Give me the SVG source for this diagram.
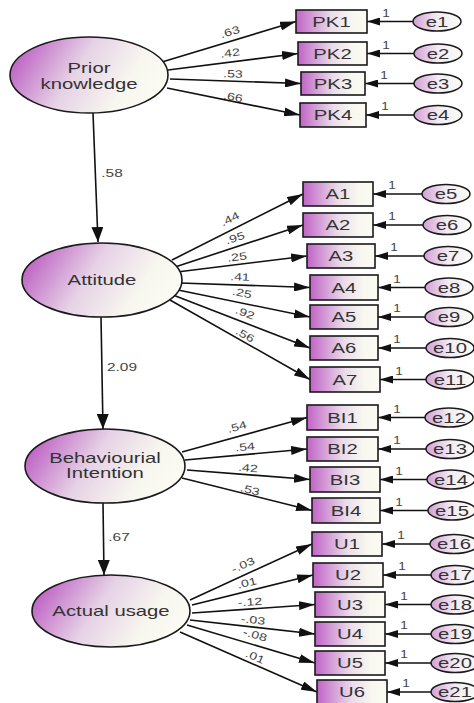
<svg xmlns="http://www.w3.org/2000/svg" width="474" height="703" viewBox="0 0 474 703">
<defs>
<linearGradient id="gL" x1="0" y1="0.2" x2="1" y2="0.5">
<stop offset="0" stop-color="#b955c0"/>
<stop offset="0.45" stop-color="#e6d2e6"/>
<stop offset="0.8" stop-color="#f8f7ef"/>
<stop offset="1" stop-color="#fbfbf3"/>
</linearGradient>
<linearGradient id="gB" x1="0" y1="0" x2="1" y2="0">
<stop offset="0" stop-color="#c064c6"/>
<stop offset="0.5" stop-color="#eadcea"/>
<stop offset="0.8" stop-color="#f9f8f0"/>
<stop offset="1" stop-color="#fbfbf3"/>
</linearGradient>
<linearGradient id="gE" x1="0" y1="0" x2="1" y2="0">
<stop offset="0" stop-color="#d39fd6"/>
<stop offset="0.5" stop-color="#f3ecf3"/>
<stop offset="1" stop-color="#fbfbf5"/>
</linearGradient>
<marker id="ah" markerWidth="16" markerHeight="9" refX="16" refY="4.5" orient="auto" markerUnits="userSpaceOnUse">
<path d="M0,0 L16,4.5 L0,9 z" fill="#111"/>
</marker>
<marker id="ae" markerWidth="13" markerHeight="8" refX="13" refY="4" orient="auto" markerUnits="userSpaceOnUse">
<path d="M0,0 L13,4 L0,8 z" fill="#111"/>
</marker>
<marker id="av" markerWidth="15" markerHeight="12" refX="15" refY="6" orient="auto" markerUnits="userSpaceOnUse">
<path d="M0,0 L15,6 L0,12 z" fill="#111"/>
</marker>
</defs>
<style>
.lat{fill:url(#gL);stroke:#1a1a1a;stroke-width:1.6}
.obs{fill:url(#gB);stroke:#1a1a1a;stroke-width:1.6}
.err{fill:url(#gE);stroke:#1a1a1a;stroke-width:1.5}
text{font-family:"Liberation Sans",Arial,sans-serif;text-anchor:middle}
.t{font-size:14px;fill:#333}
.lb{font-size:10.5px;fill:#444}
.vl{font-size:11px;fill:#444}
.c line{stroke:#111;stroke-width:1.6;fill:none}
.ld line{marker-end:url(#ah)}
.el line{marker-end:url(#ae)}
.vt line{marker-end:url(#av)}
</style>
<rect width="474" height="703" fill="#ffffff"/>

<g id="connectors" class="c">
<g class="vt">
<line x1="93" y1="113" x2="98" y2="242"/>
<line x1="101" y1="317" x2="103" y2="429"/>
<line x1="103" y1="503" x2="104" y2="575"/>
</g>
<g class="ld">
<line x1="162" y1="62" x2="296" y2="21.5"/>
<line x1="168" y1="70" x2="298" y2="53.5"/>
<line x1="170" y1="79" x2="301" y2="83.5"/>
<line x1="167" y1="88" x2="300" y2="115"/>
<line x1="172" y1="260" x2="303" y2="194"/>
<line x1="175" y1="267" x2="303" y2="225"/>
<line x1="177" y1="272" x2="307" y2="256"/>
<line x1="180" y1="283" x2="310" y2="287.5"/>
<line x1="178" y1="290" x2="310" y2="317"/>
<line x1="173" y1="295" x2="310" y2="348"/>
<line x1="170" y1="300" x2="310" y2="379.5"/>
<line x1="182" y1="452" x2="307" y2="417.5"/>
<line x1="185" y1="460" x2="307" y2="449"/>
<line x1="187" y1="470" x2="310" y2="479.5"/>
<line x1="182" y1="478" x2="312" y2="510.5"/>
<line x1="190" y1="600" x2="312" y2="544"/>
<line x1="192" y1="605" x2="313" y2="575"/>
<line x1="192" y1="613" x2="315" y2="604.5"/>
<line x1="190" y1="620" x2="315" y2="634"/>
<line x1="187" y1="625" x2="315" y2="663"/>
<line x1="180" y1="632" x2="317" y2="692"/>
</g>
<g class="el">
<line x1="413" y1="21.5" x2="367" y2="21.5"/>
<line x1="414" y1="53.5" x2="367" y2="53.5"/>
<line x1="414" y1="83.5" x2="365" y2="83.5"/>
<line x1="414" y1="115" x2="366" y2="115"/>
<line x1="422" y1="194" x2="373" y2="194"/>
<line x1="423" y1="225" x2="373" y2="225"/>
<line x1="424" y1="256" x2="375" y2="256"/>
<line x1="425" y1="287.5" x2="378" y2="287.5"/>
<line x1="425" y1="317" x2="378" y2="317"/>
<line x1="426" y1="348" x2="378" y2="348"/>
<line x1="426" y1="379.5" x2="380" y2="379.5"/>
<line x1="425" y1="417.5" x2="378" y2="417.5"/>
<line x1="426" y1="449" x2="378" y2="449"/>
<line x1="427" y1="479.5" x2="380" y2="479.5"/>
<line x1="428" y1="510.5" x2="380" y2="510.5"/>
<line x1="430" y1="544" x2="382" y2="544"/>
<line x1="431" y1="575" x2="383" y2="575"/>
<line x1="431" y1="604.5" x2="385" y2="604.5"/>
<line x1="431" y1="634" x2="385" y2="634"/>
<line x1="431" y1="663" x2="385" y2="663"/>
<line x1="431" y1="692" x2="387" y2="692"/>
</g>
<g id="path-labels">
<text class="vl" transform="translate(112,177) scale(1.4,1)">.58</text>
<text class="vl" transform="translate(122,371) scale(1.4,1)">2.09</text>
<text class="vl" transform="translate(119,541) scale(1.4,1)">.67</text>
<text class="lb" transform="translate(230,32) rotate(-16.7) scale(1.35,1)" y="3.5">.63</text>
<text class="lb" transform="translate(230,53) rotate(-7.2) scale(1.35,1)" y="3.5">.42</text>
<text class="lb" transform="translate(233,74) rotate(2) scale(1.35,1)" y="3.5">.53</text>
<text class="lb" transform="translate(233,97) rotate(11.5) scale(1.35,1)" y="3.5">.66</text>
<text class="lb" transform="translate(230,219) rotate(-27) scale(1.35,1)" y="3.5">.44</text>
<text class="lb" transform="translate(235,238) rotate(-18) scale(1.35,1)" y="3.5">.95</text>
<text class="lb" transform="translate(237,257) rotate(-7) scale(1.35,1)" y="3.5">.25</text>
<text class="lb" transform="translate(240,277) rotate(2) scale(1.35,1)" y="3.5">.41</text>
<text class="lb" transform="translate(242,293) rotate(11.6) scale(1.35,1)" y="3.5">.25</text>
<text class="lb" transform="translate(245,313) rotate(21) scale(1.35,1)" y="3.5">.92</text>
<text class="lb" transform="translate(245,335) rotate(29.6) scale(1.35,1)" y="3.5">.56</text>
<text class="lb" transform="translate(237,427) rotate(-15.4) scale(1.35,1)" y="3.5">.54</text>
<text class="lb" transform="translate(245,447) rotate(-5) scale(1.35,1)" y="3.5">.54</text>
<text class="lb" transform="translate(248,468) rotate(4.4) scale(1.35,1)" y="3.5">.42</text>
<text class="lb" transform="translate(250,490) rotate(14) scale(1.35,1)" y="3.5">.53</text>
<text class="lb" transform="translate(243,565) rotate(-24.7) scale(1.35,1)" y="3.5">-.03</text>
<text class="lb" transform="translate(247,583) rotate(-14) scale(1.35,1)" y="3.5">.01</text>
<text class="lb" transform="translate(250,602) rotate(-4) scale(1.35,1)" y="3.5">-.12</text>
<text class="lb" transform="translate(253,620) rotate(6.4) scale(1.35,1)" y="3.5">-.03</text>
<text class="lb" transform="translate(255,635) rotate(16.5) scale(1.35,1)" y="3.5">-.08</text>
<text class="lb" transform="translate(255,657) rotate(23.6) scale(1.35,1)" y="3.5">.01</text>
<text class="lb" transform="translate(386,16.5) scale(1.3,1)">1</text>
<text class="lb" transform="translate(386,48.5) scale(1.3,1)">1</text>
<text class="lb" transform="translate(384,78.5) scale(1.3,1)">1</text>
<text class="lb" transform="translate(385,110) scale(1.3,1)">1</text>
<text class="lb" transform="translate(392,189) scale(1.3,1)">1</text>
<text class="lb" transform="translate(392,220) scale(1.3,1)">1</text>
<text class="lb" transform="translate(394,251) scale(1.3,1)">1</text>
<text class="lb" transform="translate(397,282.5) scale(1.3,1)">1</text>
<text class="lb" transform="translate(397,312) scale(1.3,1)">1</text>
<text class="lb" transform="translate(397,343) scale(1.3,1)">1</text>
<text class="lb" transform="translate(399,374.5) scale(1.3,1)">1</text>
<text class="lb" transform="translate(397,412.5) scale(1.3,1)">1</text>
<text class="lb" transform="translate(397,444) scale(1.3,1)">1</text>
<text class="lb" transform="translate(399,474.5) scale(1.3,1)">1</text>
<text class="lb" transform="translate(399,505.5) scale(1.3,1)">1</text>
<text class="lb" transform="translate(401,539) scale(1.3,1)">1</text>
<text class="lb" transform="translate(402,570) scale(1.3,1)">1</text>
<text class="lb" transform="translate(404,599.5) scale(1.3,1)">1</text>
<text class="lb" transform="translate(404,629) scale(1.3,1)">1</text>
<text class="lb" transform="translate(404,658) scale(1.3,1)">1</text>
<text class="lb" transform="translate(406,687) scale(1.3,1)">1</text>
</g>
</g>

<g id="PriorKnowledge"><ellipse class="lat" cx="89" cy="75" rx="79" ry="38"/><text class="t" transform="translate(89,73) scale(1.45,1)">Prior</text><text class="t" transform="translate(89,89) scale(1.45,1)">knowledge</text></g>
<g id="Attitude"><ellipse class="lat" cx="102" cy="280" rx="80" ry="37"/><text class="t" transform="translate(102,285) scale(1.45,1)">Attitude</text></g>
<g id="BehaviouralIntention"><ellipse class="lat" cx="105" cy="466" rx="80" ry="37"/><text class="t" transform="translate(105,463) scale(1.45,1)">Behaviourial</text><text class="t" transform="translate(105,478) scale(1.45,1)">Intention</text></g>
<g id="ActualUsage"><ellipse class="lat" cx="111" cy="611" rx="79" ry="36"/><text class="t" transform="translate(111,616) scale(1.45,1)">Actual usage</text></g>

<g id="PK1"><rect class="obs" x="296" y="10" width="71" height="23"/><text class="t" transform="translate(331.5,26.5) scale(1.45,1)">PK1</text></g>
<g id="PK2"><rect class="obs" x="298" y="42" width="69" height="23"/><text class="t" transform="translate(332.5,58.5) scale(1.45,1)">PK2</text></g>
<g id="PK3"><rect class="obs" x="301" y="72" width="64" height="23"/><text class="t" transform="translate(333,88.5) scale(1.45,1)">PK3</text></g>
<g id="PK4"><rect class="obs" x="300" y="103" width="66" height="24"/><text class="t" transform="translate(333,120) scale(1.45,1)">PK4</text></g>
<g id="A1"><rect class="obs" x="303" y="182" width="70" height="24"/><text class="t" transform="translate(338,199) scale(1.45,1)">A1</text></g>
<g id="A2"><rect class="obs" x="303" y="213" width="70" height="24"/><text class="t" transform="translate(338,230) scale(1.45,1)">A2</text></g>
<g id="A3"><rect class="obs" x="307" y="244" width="68" height="24"/><text class="t" transform="translate(341,261) scale(1.45,1)">A3</text></g>
<g id="A4"><rect class="obs" x="310" y="275" width="68" height="25"/><text class="t" transform="translate(344,292.5) scale(1.45,1)">A4</text></g>
<g id="A5"><rect class="obs" x="310" y="305" width="68" height="24"/><text class="t" transform="translate(344,322) scale(1.45,1)">A5</text></g>
<g id="A6"><rect class="obs" x="310" y="336" width="68" height="24"/><text class="t" transform="translate(344,353) scale(1.45,1)">A6</text></g>
<g id="A7"><rect class="obs" x="310" y="367" width="70" height="25"/><text class="t" transform="translate(345,384.5) scale(1.45,1)">A7</text></g>
<g id="BI1"><rect class="obs" x="307" y="405" width="71" height="25"/><text class="t" transform="translate(342.5,422.5) scale(1.45,1)">BI1</text></g>
<g id="BI2"><rect class="obs" x="307" y="437" width="71" height="24"/><text class="t" transform="translate(342.5,454) scale(1.45,1)">BI2</text></g>
<g id="BI3"><rect class="obs" x="310" y="467" width="70" height="25"/><text class="t" transform="translate(345,484.5) scale(1.45,1)">BI3</text></g>
<g id="BI4"><rect class="obs" x="312" y="498" width="68" height="25"/><text class="t" transform="translate(346,515.5) scale(1.45,1)">BI4</text></g>
<g id="U1"><rect class="obs" x="312" y="532" width="70" height="24"/><text class="t" transform="translate(347,549) scale(1.45,1)">U1</text></g>
<g id="U2"><rect class="obs" x="313" y="563" width="70" height="24"/><text class="t" transform="translate(348,580) scale(1.45,1)">U2</text></g>
<g id="U3"><rect class="obs" x="315" y="592" width="70" height="25"/><text class="t" transform="translate(350,609.5) scale(1.45,1)">U3</text></g>
<g id="U4"><rect class="obs" x="315" y="622" width="70" height="24"/><text class="t" transform="translate(350,639) scale(1.45,1)">U4</text></g>
<g id="U5"><rect class="obs" x="315" y="651" width="70" height="24"/><text class="t" transform="translate(350,668) scale(1.45,1)">U5</text></g>
<g id="U6"><rect class="obs" x="317" y="680" width="70" height="24"/><text class="t" transform="translate(352,697) scale(1.45,1)">U6</text></g>

<g id="e1"><ellipse class="err" cx="437" cy="21.5" rx="24" ry="9.5"/><text class="t" transform="translate(437,26.5) scale(1.45,1)">e1</text></g>
<g id="e2"><ellipse class="err" cx="438" cy="53.5" rx="24" ry="9.5"/><text class="t" transform="translate(438,58.5) scale(1.45,1)">e2</text></g>
<g id="e3"><ellipse class="err" cx="438" cy="83.5" rx="24" ry="9.5"/><text class="t" transform="translate(438,88.5) scale(1.45,1)">e3</text></g>
<g id="e4"><ellipse class="err" cx="438" cy="115" rx="24" ry="9.5"/><text class="t" transform="translate(438,120) scale(1.45,1)">e4</text></g>
<g id="e5"><ellipse class="err" cx="446" cy="194" rx="24" ry="9.5"/><text class="t" transform="translate(446,199) scale(1.45,1)">e5</text></g>
<g id="e6"><ellipse class="err" cx="447" cy="225" rx="24" ry="9.5"/><text class="t" transform="translate(447,230) scale(1.45,1)">e6</text></g>
<g id="e7"><ellipse class="err" cx="448" cy="256" rx="24" ry="9.5"/><text class="t" transform="translate(448,261) scale(1.45,1)">e7</text></g>
<g id="e8"><ellipse class="err" cx="449" cy="287.5" rx="24" ry="9.5"/><text class="t" transform="translate(449,292.5) scale(1.45,1)">e8</text></g>
<g id="e9"><ellipse class="err" cx="449" cy="317" rx="24" ry="9.5"/><text class="t" transform="translate(449,322) scale(1.45,1)">e9</text></g>
<g id="e10"><ellipse class="err" cx="450" cy="348" rx="24" ry="9.5"/><text class="t" transform="translate(450,353) scale(1.45,1)">e10</text></g>
<g id="e11"><ellipse class="err" cx="450" cy="379.5" rx="24" ry="9.5"/><text class="t" transform="translate(450,384.5) scale(1.45,1)">e11</text></g>
<g id="e12"><ellipse class="err" cx="449" cy="417.5" rx="24" ry="9.5"/><text class="t" transform="translate(449,422.5) scale(1.45,1)">e12</text></g>
<g id="e13"><ellipse class="err" cx="450" cy="449" rx="24" ry="9.5"/><text class="t" transform="translate(450,454) scale(1.45,1)">e13</text></g>
<g id="e14"><ellipse class="err" cx="451" cy="479.5" rx="24" ry="9.5"/><text class="t" transform="translate(451,484.5) scale(1.45,1)">e14</text></g>
<g id="e15"><ellipse class="err" cx="452" cy="510.5" rx="24" ry="9.5"/><text class="t" transform="translate(452,515.5) scale(1.45,1)">e15</text></g>
<g id="e16"><ellipse class="err" cx="454" cy="544" rx="24" ry="9.5"/><text class="t" transform="translate(454,549) scale(1.45,1)">e16</text></g>
<g id="e17"><ellipse class="err" cx="455" cy="575" rx="24" ry="9.5"/><text class="t" transform="translate(455,580) scale(1.45,1)">e17</text></g>
<g id="e18"><ellipse class="err" cx="455" cy="604.5" rx="24" ry="9.5"/><text class="t" transform="translate(455,609.5) scale(1.45,1)">e18</text></g>
<g id="e19"><ellipse class="err" cx="455" cy="634" rx="24" ry="9.5"/><text class="t" transform="translate(455,639) scale(1.45,1)">e19</text></g>
<g id="e20"><ellipse class="err" cx="455" cy="663" rx="24" ry="9.5"/><text class="t" transform="translate(455,668) scale(1.45,1)">e20</text></g>
<g id="e21"><ellipse class="err" cx="455" cy="692" rx="24" ry="9.5"/><text class="t" transform="translate(455,697) scale(1.45,1)">e21</text></g>
</svg>
